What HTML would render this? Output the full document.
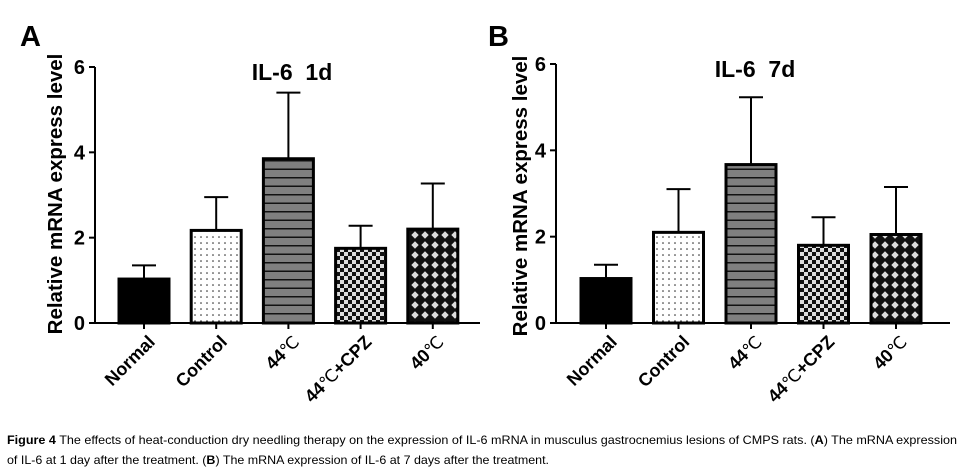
<!DOCTYPE html>
<html><head><meta charset="utf-8"><style>
body{margin:0;background:#fff}
svg{display:block;font-family:"Liberation Sans","DejaVu Sans",sans-serif}
text{white-space:pre}
</style></head><body>
<svg id="fig" width="964" height="476" viewBox="0 0 964 476">
<defs>
<pattern id="dots" width="6" height="6" patternUnits="userSpaceOnUse"><rect width="6" height="6" fill="#fff"/><circle cx="3" cy="3" r="0.8" fill="#222"/></pattern>
<pattern id="hlines" width="10" height="8.5" patternUnits="userSpaceOnUse"><rect width="10" height="8.5" fill="#7f7f7f"/><rect y="7" width="10" height="1.5" fill="#111"/></pattern>
<pattern id="check" width="8" height="8" patternUnits="userSpaceOnUse"><rect width="8" height="8" fill="#ddd"/><rect width="4" height="4" fill="#111"/><rect x="4" y="4" width="4" height="4" fill="#111"/></pattern>
<pattern id="diam" width="10" height="10" patternUnits="userSpaceOnUse"><rect width="10" height="10" fill="#111"/><path d="M5 1.3 L8.7 5 L5 8.7 L1.3 5Z" fill="#ddd"/></pattern>
</defs>
<text x="20" y="46" font-size="29" font-weight="bold">A</text>
<text x="488" y="46" font-size="29" font-weight="bold">B</text>
<text x="7" y="444" font-size="12" textLength="950" lengthAdjust="spacingAndGlyphs"><tspan font-weight="bold">Figure 4</tspan> The effects of heat-conduction dry needling therapy on the expression of IL-6 mRNA in musculus gastrocnemius lesions of CMPS rats. (<tspan font-weight="bold">A</tspan>) The mRNA expression</text>
<text x="7" y="464" font-size="12" textLength="542" lengthAdjust="spacingAndGlyphs">of IL-6 at 1 day after the treatment. (<tspan font-weight="bold">B</tspan>) The mRNA expression of IL-6 at 7 days after the treatment.</text>
</svg>
<script>
const categories = ["Normal","Control","44℃","44℃+CPZ","40℃"];
const meanA = [1.03, 2.17, 3.85, 1.75, 2.2];
const errA  = [0.32, 0.78, 1.55, 0.53, 1.07];
const meanB = [1.03, 2.1, 3.67, 1.8, 2.05];
const errB  = [0.32, 1.0, 1.56, 0.65, 1.1];
const yTicks = [0, 2, 4, 6];
const titles = ["IL-6  1d", "IL-6  7d"];
const fills = ["#000","url(#dots)","url(#hlines)","url(#check)","url(#diam)"];
const NS = "http://www.w3.org/2000/svg";
const svg = document.getElementById("fig");
function mk(tag, attrs, parent, text){
  const e = document.createElementNS(NS, tag);
  for (const k in attrs) e.setAttribute(k, attrs[k]);
  if (text !== undefined) e.textContent = text;
  (parent||svg).appendChild(e); return e;
}
function panel(cfg, means, errs, title, key){
  const g = mk("g", {});
  
  
  const y = v => cfg.y0 - (v / 6) * (cfg.y0 - cfg.y6);
  const x = i => cfg.c0 + i * cfg.step;
  const bw = cfg.bw;
  const yt = mk("text", {x:0, y:0, transform:`translate(${cfg.ytx},${cfg.ytc}) rotate(-90)`, "text-anchor":"middle", "font-size":"20.5", "font-weight":"bold"}, g, "Relative mRNA express level");
  
  
  const tt = mk("text", {x:cfg.tx, y:cfg.ty, "text-anchor":"middle", "font-size":"23", "font-weight":"bold"}, g, title);
  
  
  means.forEach((m, i) => {
    const top = y(m + errs[i]);
    const el = mk("line", {x1:x(i), x2:x(i), y1:y(m), y2:top, stroke:"#000", "stroke-width":"2"}, g);
    
    
    const cap = mk("line", {x1:x(i)-12, x2:x(i)+12, y1:top, y2:top, stroke:"#000", "stroke-width":"2"}, g);
    
    
    const r = mk("rect", {x:x(i)-bw/2, y:y(m), width:bw, height:cfg.y0 - y(m), fill:fills[i], stroke:"#000", "stroke-width":"3"}, g);
    
    
  });
  const ya = mk("line", {x1:cfg.ax, x2:cfg.ax, y1:cfg.y6, y2:cfg.y0, stroke:"#000", "stroke-width":"2"}, g);
  
  
  const xa = mk("line", {x1:cfg.ax, x2:cfg.xend, y1:cfg.y0, y2:cfg.y0, stroke:"#000", "stroke-width":"2"}, g);
  
  
  yTicks.forEach(t => {
    mk("line", {x1:cfg.ax-6, x2:cfg.ax, y1:y(t), y2:y(t), stroke:"#000", "stroke-width":"2"}, g);
    const lt = mk("text", {x:cfg.ax-10, y:y(t)+7, "text-anchor":"end", "font-size":"20", "font-weight":"bold"}, g, String(t));
    
    
  });
  categories.forEach((c, i) => {
    mk("line", {x1:x(i), x2:x(i), y1:cfg.y0, y2:cfg.y0+6, stroke:"#000", "stroke-width":"2"}, g);
    const lt = mk("text", {x:0, y:0, transform:`translate(${x(i)+12},${cfg.y0+20}) rotate(-45)`, "text-anchor":"end", "font-size":"18", "font-weight":"bold"}, g);
    const parts = c.split("℃");
    parts.forEach((p, k) => {
      if (p) mk("tspan", {}, lt, p);
      if (k < parts.length - 1) mk("tspan", {"font-weight":"normal", "font-size":"17"}, lt, "℃");
    });
    
    
  });
}
panel({ax:95, y0:323, y6:67, c0:144, step:72.2, bw:50, xend:480, ytx:62, ytc:194, tx:292, ty:80}, meanA, errA, titles[0], "a");
panel({ax:556, y0:323, y6:64, c0:606, step:72.5, bw:50, xend:950, ytx:527, ytc:196, tx:755, ty:77}, meanB, errB, titles[1], "b");
</script>
</body></html>
